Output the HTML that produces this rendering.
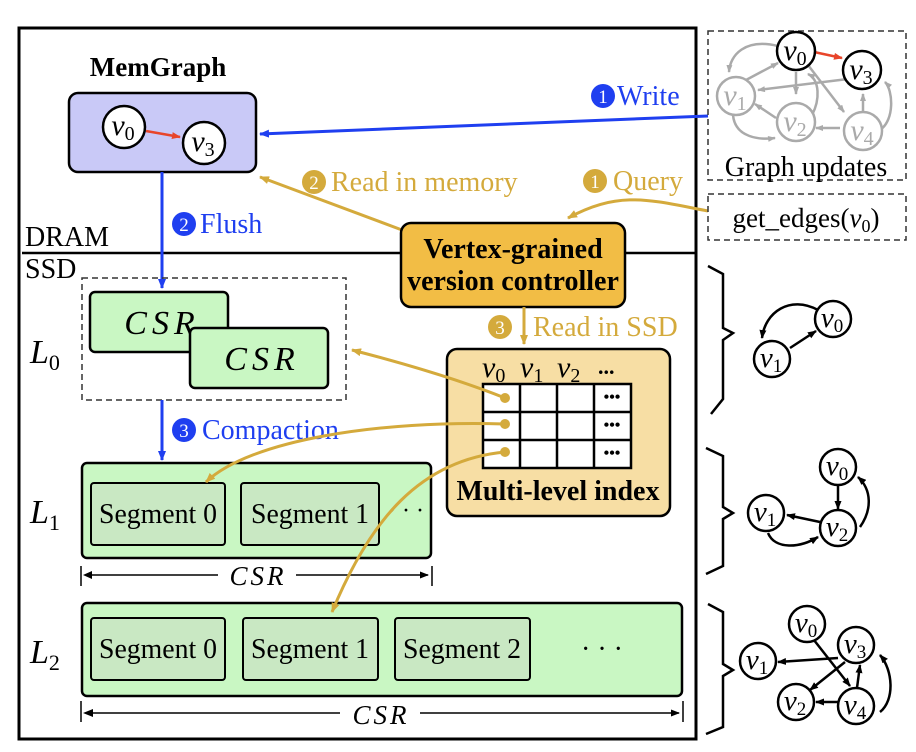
<!DOCTYPE html>
<html><head><meta charset="utf-8"><style>
html,body{margin:0;padding:0;background:#fff;}
svg{display:block;}
svg text{font-family:"Liberation Serif","Times New Roman",serif;}
.it{font-style:italic;}
</style></head><body>
<svg width="916" height="752" viewBox="0 0 916 752" xmlns="http://www.w3.org/2000/svg" font-family="'Liberation Serif', serif">
<defs>
<marker id="ab" markerWidth="10" markerHeight="8" refX="9" refY="4" orient="auto" markerUnits="userSpaceOnUse"><path d="M0,0 L10,4 L0,8 z" fill="#1f3ff0"/></marker>
<marker id="ag" markerWidth="10" markerHeight="8" refX="9" refY="4" orient="auto" markerUnits="userSpaceOnUse"><path d="M0,0 L10,4 L0,8 z" fill="#d4aa3c"/></marker>
<marker id="ak" markerWidth="9" markerHeight="7" refX="8" refY="3.5" orient="auto" markerUnits="userSpaceOnUse"><path d="M0,0 L9,3.5 L0,7 z" fill="#000"/></marker>
<marker id="ar" markerWidth="9" markerHeight="7" refX="8" refY="3.5" orient="auto" markerUnits="userSpaceOnUse"><path d="M0,0 L9,3.5 L0,7 z" fill="#e8452a"/></marker>
<marker id="agr" markerWidth="8" markerHeight="6" refX="7" refY="3" orient="auto" markerUnits="userSpaceOnUse"><path d="M0,0 L8,3 L0,6 z" fill="#aaa"/></marker>
</defs>

<rect x="19" y="28" width="677" height="711" fill="none" stroke="#000" stroke-width="3"/>

<text x="158" y="76" font-size="27" font-weight="bold" text-anchor="middle">MemGraph</text>
<rect x="69" y="93" width="187" height="79" rx="9" fill="#c9c9f7" stroke="#000" stroke-width="2.5"/>
<line x1="146" y1="131" x2="180" y2="137" stroke="#e8452a" stroke-width="2.5" marker-end="url(#ar)"/>
<circle cx="124" cy="127" r="21" fill="#fff" stroke="#000" stroke-width="2.5"/>
<text x="123" y="135" font-size="30" class="it" text-anchor="middle">v<tspan font-size="20" font-style="normal" dy="5">0</tspan></text>
<circle cx="204" cy="143" r="21" fill="#fff" stroke="#000" stroke-width="2.5"/>
<text x="203" y="151" font-size="30" class="it" text-anchor="middle">v<tspan font-size="20" font-style="normal" dy="5">3</tspan></text>

<line x1="22" y1="253" x2="696" y2="253" stroke="#000" stroke-width="2.5"/>
<text x="25" y="246" font-size="28">DRAM</text>
<text x="25" y="278" font-size="28">SSD</text>

<line x1="708" y1="116" x2="260" y2="134" stroke="#1f3ff0" stroke-width="3" marker-end="url(#ab)"/>
<circle cx="603" cy="96" r="12" fill="#1f3ff0"/><text x="603" y="103" font-size="19" fill="#fff" text-anchor="middle">1</text>
<text x="617" y="105" font-size="28" fill="#1f3ff0">Write</text>

<line x1="162" y1="172" x2="162" y2="288" stroke="#1f3ff0" stroke-width="3" marker-end="url(#ab)"/>
<circle cx="184" cy="224" r="12" fill="#1f3ff0"/><text x="184" y="231" font-size="19" fill="#fff" text-anchor="middle">2</text>
<text x="200" y="233" font-size="28" fill="#1f3ff0">Flush</text>

<line x1="402" y1="230" x2="260" y2="177" stroke="#d4aa3c" stroke-width="3" marker-end="url(#ag)"/>
<circle cx="314" cy="182" r="12" fill="#d4aa3c"/><text x="314" y="189" font-size="19" fill="#fff" text-anchor="middle">2</text>
<text x="331" y="191" font-size="28" fill="#d4aa3c">Read in memory</text>

<path d="M708,211 C650,200 620,190 568,218" fill="none" stroke="#d4aa3c" stroke-width="3" marker-end="url(#ag)"/>
<circle cx="595" cy="181" r="12" fill="#d4aa3c"/><text x="595" y="188" font-size="19" fill="#fff" text-anchor="middle">1</text>
<text x="613" y="190" font-size="28" fill="#d4aa3c">Query</text>

<rect x="401" y="223" width="224" height="84" rx="10" fill="#f2bd45" stroke="#000" stroke-width="2.5"/>
<text x="513" y="258" font-size="28" font-weight="bold" text-anchor="middle">Vertex-grained</text>
<text x="513" y="290" font-size="28" font-weight="bold" text-anchor="middle">version controller</text>

<line x1="524" y1="307" x2="524" y2="344" stroke="#d4aa3c" stroke-width="3" marker-end="url(#ag)"/>
<circle cx="500" cy="327" r="12" fill="#d4aa3c"/><text x="500" y="334" font-size="19" fill="#fff" text-anchor="middle">3</text>
<text x="533" y="336" font-size="28" fill="#d4aa3c">Read in SSD</text>

<rect x="708" y="31" width="198" height="149" fill="none" stroke="#333" stroke-width="1.5" stroke-dasharray="6,4"/>
<g stroke="#aaa" stroke-width="2.5" fill="none">
<path d="M778,46 C745,38 730,55 729,72" marker-end="url(#agr)"/>
<line x1="746" y1="80" x2="778" y2="63" marker-end="url(#agr)"/>
<line x1="796" y1="72" x2="796" y2="94" marker-end="url(#agr)"/>
<line x1="808" y1="65" x2="844" y2="112" marker-end="url(#agr)"/>
<path d="M812,115 C820,100 820,80 808,74" marker-end="url(#agr)"/>
<line x1="848" y1="79" x2="758" y2="90" marker-end="url(#agr)"/>
<line x1="840" y1="128" x2="816" y2="128" marker-end="url(#agr)"/>
<line x1="863" y1="113" x2="863" y2="94" marker-end="url(#agr)"/>
<line x1="776" y1="118" x2="755" y2="104" marker-end="url(#agr)"/>
<path d="M733,115 C735,138 760,140 775,138" marker-end="url(#agr)"/>
<path d="M880,130 C895,120 893,90 885,82" marker-end="url(#agr)"/>
</g>
<g fill="#fff" stroke="#aaa" stroke-width="2.5">
<circle cx="736" cy="96" r="19"/><circle cx="796" cy="122" r="19"/><circle cx="863" cy="131" r="19"/>
</g>
<g fill="#aaa" font-size="30" class="it" text-anchor="middle">
<text x="735" y="105">v<tspan font-size="20" font-style="normal" dy="5">1</tspan></text>
<text x="795" y="131">v<tspan font-size="20" font-style="normal" dy="5">2</tspan></text>
<text x="862" y="140">v<tspan font-size="20" font-style="normal" dy="5">4</tspan></text>
</g>
<line x1="814" y1="52" x2="842" y2="58" stroke="#e8452a" stroke-width="2.5" marker-end="url(#ar)"/>
<circle cx="796" cy="51" r="19" fill="#fff" stroke="#000" stroke-width="2.5"/>
<text x="795" y="60" font-size="30" class="it" text-anchor="middle">v<tspan font-size="20" font-style="normal" dy="5">0</tspan></text>
<circle cx="862" cy="70" r="19" fill="#fff" stroke="#000" stroke-width="2.5"/>
<text x="861" y="79" font-size="30" class="it" text-anchor="middle">v<tspan font-size="20" font-style="normal" dy="5">3</tspan></text>
<text x="806" y="176" font-size="28" text-anchor="middle">Graph updates</text>

<rect x="708" y="194" width="198" height="46" fill="none" stroke="#333" stroke-width="1.5" stroke-dasharray="6,4"/>
<text x="806" y="227" font-size="27" text-anchor="middle">get_edges(<tspan class="it">v</tspan><tspan font-size="18" dy="5">0</tspan><tspan dy="-5">)</tspan></text>

<rect x="82" y="278" width="264" height="122" fill="none" stroke="#333" stroke-width="1.5" stroke-dasharray="6,4"/>
<rect x="90" y="292" width="138" height="60" rx="5" fill="#c9f7c3" stroke="#000" stroke-width="2.5"/>
<text x="162" y="334" font-size="34" class="it" text-anchor="middle" letter-spacing="5">CSR</text>
<rect x="190" y="328" width="138" height="60" rx="5" fill="#c9f7c3" stroke="#000" stroke-width="2.5"/>
<text x="262" y="370" font-size="34" class="it" text-anchor="middle" letter-spacing="5">CSR</text>
<text x="30" y="363" font-size="34" class="it">L<tspan font-size="22" font-style="normal" dy="7">0</tspan></text>

<line x1="162" y1="400" x2="162" y2="460" stroke="#1f3ff0" stroke-width="3" marker-end="url(#ab)"/>
<circle cx="184" cy="430" r="12" fill="#1f3ff0"/><text x="184" y="437" font-size="19" fill="#fff" text-anchor="middle">3</text>
<text x="202" y="439" font-size="28" fill="#1f3ff0">Compaction</text>

<rect x="447" y="349" width="223" height="167" rx="10" fill="#f7dea4" stroke="#000" stroke-width="2.5"/>
<text x="482" y="377" font-size="30" class="it">v<tspan font-size="20" font-style="normal" dy="5">0</tspan></text>
<text x="520" y="377" font-size="30" class="it">v<tspan font-size="20" font-style="normal" dy="5">1</tspan></text>
<text x="557" y="377" font-size="30" class="it">v<tspan font-size="20" font-style="normal" dy="5">2</tspan></text>
<text x="598" y="374" font-size="22" font-weight="bold">...</text>
<rect x="483" y="384" width="148" height="84" fill="#fff" stroke="#000" stroke-width="2.5"/>
<g stroke="#000" stroke-width="2.5">
<line x1="520" y1="384" x2="520" y2="468"/><line x1="557" y1="384" x2="557" y2="468"/><line x1="594" y1="384" x2="594" y2="468"/>
<line x1="483" y1="412" x2="631" y2="412"/><line x1="483" y1="440" x2="631" y2="440"/>
</g>
<g font-size="16" font-weight="bold" text-anchor="middle"><text x="612" y="402">•••</text><text x="612" y="430">•••</text><text x="612" y="458">•••</text></g>
<text x="558" y="500" font-size="28" font-weight="bold" text-anchor="middle">Multi-level index</text>

<!-- L1 -->
<rect x="82" y="463" width="349" height="95" rx="5" fill="#c9f7c3" stroke="#000" stroke-width="2.5"/>
<rect x="91" y="483" width="134" height="62" rx="3" fill="#c9e8c3" stroke="#000" stroke-width="2"/>
<text x="158" y="523" font-size="28" text-anchor="middle" textLength="118" lengthAdjust="spacingAndGlyphs">Segment 0</text>
<rect x="241" y="483" width="138" height="62" rx="3" fill="#c9e8c3" stroke="#000" stroke-width="2"/>
<text x="310" y="523" font-size="28" text-anchor="middle" textLength="118" lengthAdjust="spacingAndGlyphs">Segment 1</text>
<text x="406" y="518" font-size="24" text-anchor="middle">· · ·</text>
<text x="30" y="523" font-size="34" class="it">L<tspan font-size="22" font-style="normal" dy="7">1</tspan></text>
<line x1="81" y1="566" x2="81" y2="586" stroke="#000" stroke-width="1.5"/>
<line x1="432" y1="566" x2="432" y2="586" stroke="#000" stroke-width="1.5"/>
<line x1="88" y1="575" x2="218" y2="575" stroke="#000" stroke-width="1.5"/>
<path d="M83,575 L92,571 L92,579 z" fill="#000"/>
<line x1="296" y1="575" x2="428" y2="575" stroke="#000" stroke-width="1.5" marker-end="url(#ak)"/>
<text x="258" y="585" font-size="27" class="it" text-anchor="middle" letter-spacing="3">CSR</text>

<!-- L2 -->
<rect x="82" y="603" width="600" height="93" rx="5" fill="#c9f7c3" stroke="#000" stroke-width="2.5"/>
<rect x="91" y="618" width="134" height="62" rx="3" fill="#c9e8c3" stroke="#000" stroke-width="2"/>
<text x="158" y="658" font-size="28" text-anchor="middle" textLength="118" lengthAdjust="spacingAndGlyphs">Segment 0</text>
<rect x="243" y="618" width="135" height="62" rx="3" fill="#c9e8c3" stroke="#000" stroke-width="2"/>
<text x="310" y="658" font-size="28" text-anchor="middle" textLength="118" lengthAdjust="spacingAndGlyphs">Segment 1</text>
<rect x="395" y="618" width="135" height="62" rx="3" fill="#c9e8c3" stroke="#000" stroke-width="2"/>
<text x="462" y="658" font-size="28" text-anchor="middle" textLength="118" lengthAdjust="spacingAndGlyphs">Segment 2</text>
<text x="602" y="658" font-size="28" text-anchor="middle">· · ·</text>
<text x="30" y="663" font-size="34" class="it">L<tspan font-size="22" font-style="normal" dy="7">2</tspan></text>
<line x1="81" y1="701" x2="81" y2="722" stroke="#000" stroke-width="1.5"/>
<line x1="683" y1="701" x2="683" y2="722" stroke="#000" stroke-width="1.5"/>
<line x1="88" y1="713" x2="340" y2="713" stroke="#000" stroke-width="1.5"/>
<path d="M83,713 L93,709 L93,717 z" fill="#000"/>
<line x1="420" y1="713" x2="679" y2="713" stroke="#000" stroke-width="1.5" marker-end="url(#ak)"/>
<text x="381" y="724" font-size="27" class="it" text-anchor="middle" letter-spacing="3">CSR</text>

<g stroke="#d4aa3c" stroke-width="3" fill="none">
<path d="M505,398 C460,380 410,365 352,350" marker-end="url(#ag)"/>
<path d="M505,424 C380,420 250,440 206,482" marker-end="url(#ag)"/>
<path d="M505,452 C420,460 370,520 332,612" marker-end="url(#ag)"/>
</g>
<g fill="#d4aa3c"><circle cx="505" cy="398" r="5"/><circle cx="505" cy="424" r="5"/><circle cx="505" cy="452" r="5"/></g>

<g fill="none" stroke="#000" stroke-width="2.5">
<path d="M708,266 L723,274 L723,328 L733,333 L723,340 L723,399 L711,414"/>
<path d="M706,448 L723,456 L723,507 L733,513 L723,519 L723,566 L706,574"/>
<path d="M708,604 L723,612 L723,664 L733,670 L723,676 L723,727 L706,734"/>
</g>

<g fill="none" stroke="#000" stroke-width="2.5">
<path d="M818,310 C790,295 765,312 762,338" marker-end="url(#ak)"/>
<line x1="790" y1="348" x2="816" y2="331" marker-end="url(#ak)"/>
<line x1="838" y1="486" x2="838" y2="509" marker-end="url(#ak)"/>
<line x1="820" y1="522" x2="787" y2="515" marker-end="url(#ak)"/>
<path d="M768,533 C775,550 800,548 818,537" marker-end="url(#ak)"/>
<path d="M860,527 C872,510 872,490 858,477" marker-end="url(#ak)"/>
<line x1="810" y1="635" x2="850" y2="686" marker-end="url(#ak)"/>
<line x1="838" y1="658" x2="778" y2="662" marker-end="url(#ak)"/>
<line x1="845" y1="662" x2="810" y2="690" marker-end="url(#ak)"/>
<line x1="857" y1="688" x2="860" y2="665" marker-end="url(#ak)"/>
<line x1="839" y1="702" x2="816" y2="702" marker-end="url(#ak)"/>
<path d="M880,712 C895,700 893,670 880,655" marker-end="url(#ak)"/>
</g>
<g fill="#fff" stroke="#000" stroke-width="2.5">
<circle cx="833" cy="319" r="18"/><circle cx="772" cy="359" r="18"/>
<circle cx="838" cy="467" r="18"/><circle cx="766" cy="513" r="18"/><circle cx="838" cy="528" r="18"/>
<circle cx="807" cy="624" r="18"/><circle cx="856" cy="645" r="18"/><circle cx="758" cy="661" r="18"/><circle cx="796" cy="702" r="18"/><circle cx="856" cy="706" r="18"/>
</g>
<g font-size="29" class="it" text-anchor="middle">
<text x="832" y="327">v<tspan font-size="19" font-style="normal" dy="5">0</tspan></text>
<text x="771" y="367">v<tspan font-size="19" font-style="normal" dy="5">1</tspan></text>
<text x="837" y="475">v<tspan font-size="19" font-style="normal" dy="5">0</tspan></text>
<text x="765" y="521">v<tspan font-size="19" font-style="normal" dy="5">1</tspan></text>
<text x="837" y="536">v<tspan font-size="19" font-style="normal" dy="5">2</tspan></text>
<text x="806" y="632">v<tspan font-size="19" font-style="normal" dy="5">0</tspan></text>
<text x="855" y="653">v<tspan font-size="19" font-style="normal" dy="5">3</tspan></text>
<text x="757" y="669">v<tspan font-size="19" font-style="normal" dy="5">1</tspan></text>
<text x="795" y="710">v<tspan font-size="19" font-style="normal" dy="5">2</tspan></text>
<text x="855" y="714">v<tspan font-size="19" font-style="normal" dy="5">4</tspan></text>
</g>
</svg>
</body></html>
